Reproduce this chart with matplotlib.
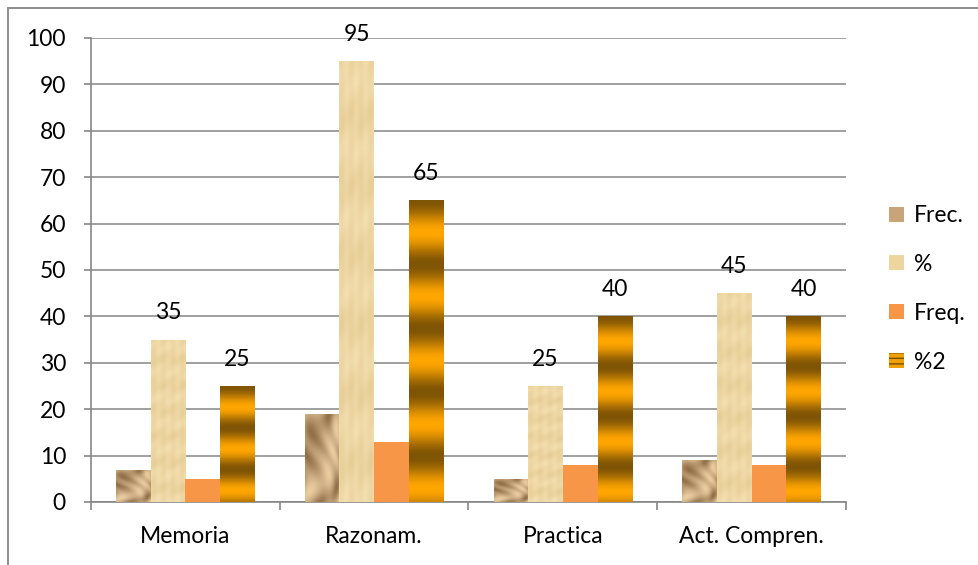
import numpy as np
import matplotlib
matplotlib.use("Agg")
import matplotlib.pyplot as plt
from matplotlib.patches import Patch, Rectangle

categories = ["Memoria", "Razonam.", "Practica", "Act. Compren."]
series_names = ["Frec.", "%", "Freq.", "%2"]
frec = [7, 19, 5, 9]
pct = [35, 95, 25, 45]
freq = [5, 13, 8, 8]
pct2 = [25, 65, 40, 40]
labeled = [False, True, False, True]

plt.rcParams['font.family'] = ['Lato', 'DejaVu Sans']
FS = 16.5

fig = plt.figure(figsize=(9.79, 5.65), dpi=100)
ax = fig.add_axes([91 / 979, 1 - 502 / 565, (846 - 91) / 979, (502 - 38) / 565])


def rock_tex(n=80):
    # tan stone look, built from sine waves
    yy, xx = np.mgrid[0:n, 0:n] / n
    warp = 1.5 * np.sin(5 * yy + 1.0) + 0.8 * np.sin(4 * xx + 2.0)
    v = (0.55 + 0.3 * np.sin(6 * xx + 9 * yy + warp)
         + 0.15 * np.sin(15 * xx - 6 * yy + 2 * warp))
    v = np.clip(v, 0, 1) ** 0.7
    light = np.array([0.92, 0.80, 0.63])
    dark = np.array([0.48, 0.34, 0.19])
    return light * v[..., None] + dark * (1 - v[..., None])


def papyrus_tex(n=64):
    yy, xx = np.mgrid[0:n, 0:n] / n
    v = 0.5 + 0.2 * np.sin(40 * yy) + 0.15 * np.sin(23 * xx + 3) + 0.1 * np.sin(71 * yy + 11 * xx)
    light = np.array([0.96, 0.88, 0.70])
    dark = np.array([0.90, 0.80, 0.58])
    return light * v[..., None] + dark * (1 - v[..., None])


def stripe_tex(height, n=400):
    period = 6 + 0.12 * height
    t = np.linspace(0, height, n)
    v = 0.5 - 0.5 * np.cos(2 * np.pi * t / period)
    orange = np.array([1.0, 0.65, 0.0])
    dark = np.array([0.50, 0.33, 0.02])
    col = dark * (1 - v[:, None]) + orange * v[:, None]
    return np.repeat(col[:, None, :], 4, axis=1)


x = np.arange(len(categories))
w = 0.1835
all_vals = [frec, pct, freq, pct2]
offsets = [-1.5, -0.5, 0.5, 1.5]

for si, vals in enumerate(all_vals):
    bars = ax.bar(x + offsets[si] * w, vals, w, facecolor='none', edgecolor='none', zorder=3)
    for b, v in zip(bars, vals):
        x0 = b.get_x()
        x1 = x0 + b.get_width()
        if si == 2:
            b.set_facecolor('#f79646')
            continue
        if si == 0:
            img = rock_tex()
        elif si == 1:
            img = papyrus_tex()
        else:
            img = stripe_tex(v)
        im = ax.imshow(img, extent=[x0, x1, 0, v], aspect='auto', origin='upper',
                       interpolation='bilinear', zorder=3)
        im.set_clip_path(b)
    if labeled[si]:
        for b, v in zip(bars, vals):
            ax.annotate(str(v), (b.get_x() + b.get_width() / 2, v), xytext=(0, 27),
                        textcoords='offset pixels', ha='center', va='center', fontsize=FS)

ax.set_xlim(-0.5, 3.5)
ax.set_ylim(0, 100)
ax.set_yticks(range(0, 101, 10))
ax.set_xticks(x)
ax.set_xticklabels(categories)
ax.set_xticks(np.arange(-0.5, 4, 1), minor=True)
ax.tick_params(axis='x', which='major', length=0, pad=17, labelsize=FS)
ax.tick_params(axis='x', which='minor', length=6, color='#868686', width=1.2)
ax.tick_params(axis='y', length=5, color='#868686', width=1.2, pad=13, labelsize=FS)
ax.grid(axis='y', color='#868686', linewidth=1.1, zorder=0)
ax.set_axisbelow(True)
for s in ['top', 'right']:
    ax.spines[s].set_visible(False)
for s in ['left', 'bottom']:
    ax.spines[s].set_color('#868686')
    ax.spines[s].set_linewidth(1.2)

handles = [
    Patch(facecolor='#c9a47a', edgecolor='none'),
    Patch(facecolor='#ecd59e', edgecolor='none'),
    Patch(facecolor='#f79646', edgecolor='none'),
    Patch(facecolor='#f0a000', edgecolor='#7a4f00', hatch='---', linewidth=0),
]
leg = ax.legend(handles, series_names, loc='center left', bbox_to_anchor=(880 / 979, 1 - 289 / 565),
                bbox_transform=fig.transFigure, frameon=False, fontsize=FS,
                handlelength=0.63, handleheight=0.63, handletextpad=0.45, labelspacing=1.22,
                borderaxespad=0)

fig.patches.append(Rectangle((8 / 979, -0.1), 1.2, 1 - 8 / 565 + 0.1, transform=fig.transFigure,
                             facecolor='none', edgecolor='#8c8c8c', linewidth=1.4))

fig.savefig("out.png", dpi=100)
